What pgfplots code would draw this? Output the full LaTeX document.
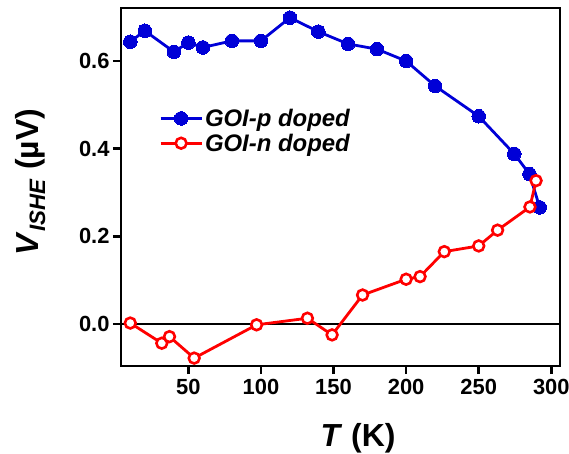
\documentclass[border=0pt]{standalone}
\usepackage{pgfplots}
\pgfplotsset{compat=1.18}
\usepackage{fontspec}
\setmainfont{Liberation Sans}
\definecolor{pblue}{RGB}{0,0,215}
\definecolor{nred}{RGB}{255,0,0}
\begin{document}
\begin{tikzpicture}
\useasboundingbox (-121bp,-88bp) rectangle (448bp,366bp);
\begin{axis}[
  at={(0,0)}, anchor=south west,
  scale only axis,
  width=439bp, height=358bp,
  xmin=3.6, xmax=306, ymin=-0.096, ymax=0.721,
  xtick={50,100,150,200,250,300},
  ytick={0,0.2,0.4,0.6},
  minor tick num=0,
  axis line style={line width=2.6bp},
  tick style={line width=2.6bp, black},
  tick align=outside,
  major tick length=8bp,
  xtick pos=bottom, ytick pos=left,
  /pgf/number format/assume math mode=true,
  yticklabel style={/pgf/number format/fixed, /pgf/number format/fixed zerofill, /pgf/number format/precision=1},
  scaled y ticks=false,
  tick label style={font=\fontsize{22}{22}\selectfont\bfseries},
  xticklabel style={yshift=-2bp},
  yticklabel style={xshift=0bp},
  xlabel={\textit{T} (K)},
  ylabel={\textit{V}\textsubscript{\textit{ISHE}} (µV)},
  label style={font=\fontsize{32}{32}\selectfont\bfseries},
  xlabel style={at={(axis description cs:0.54,-0.2235)}, anchor=base},
  ylabel style={at={(axis description cs:-0.207,0.514)}, anchor=center, rotate=0},
  legend style={at={(0.0866,0.724)}, anchor=north west, draw=none, fill=none,
    font=\fontsize{24}{26}\selectfont\bfseries\itshape, row sep=2bp,
    inner sep=0pt},
  legend cell align=left,
  legend image code/.code={\draw[mark repeat=2,mark phase=2] plot coordinates {(0bp,0bp) (20.5bp,0bp) (41bp,0bp)};},
  clip=false,
]
\draw[line width=2.6bp, black] (axis cs:3.6,0) -- (axis cs:306,0);
\addplot[pblue, line width=2.8bp, mark=*, mark size=6.8bp, mark options={fill=pblue, draw=pblue, line width=0pt}] coordinates {
(10,0.644) (20,0.669) (40,0.621) (50,0.642) (60,0.631) (80,0.646) (100,0.646)
(120,0.699) (139.5,0.667) (160,0.639) (180,0.627) (200,0.600) (220,0.543)
(250,0.474) (274.5,0.388) (285,0.342) (292,0.266)
};
\addlegendentry{GOI-p doped}
\addplot[nred, line width=2.8bp, mark=*, mark size=5.4bp, mark options={fill=white, draw=nred, line width=2.6bp}] coordinates {
(10,0.002) (31.7,-0.044) (37,-0.029) (54,-0.078) (97,-0.002) (132,0.013)
(149,-0.025) (170,0.066) (200,0.102) (209.6,0.108) (226.3,0.165) (250,0.178)
(263,0.214) (285.3,0.267) (289.5,0.327)
};
\addlegendentry{GOI-n doped}
\end{axis}
\end{tikzpicture}
\end{document}
